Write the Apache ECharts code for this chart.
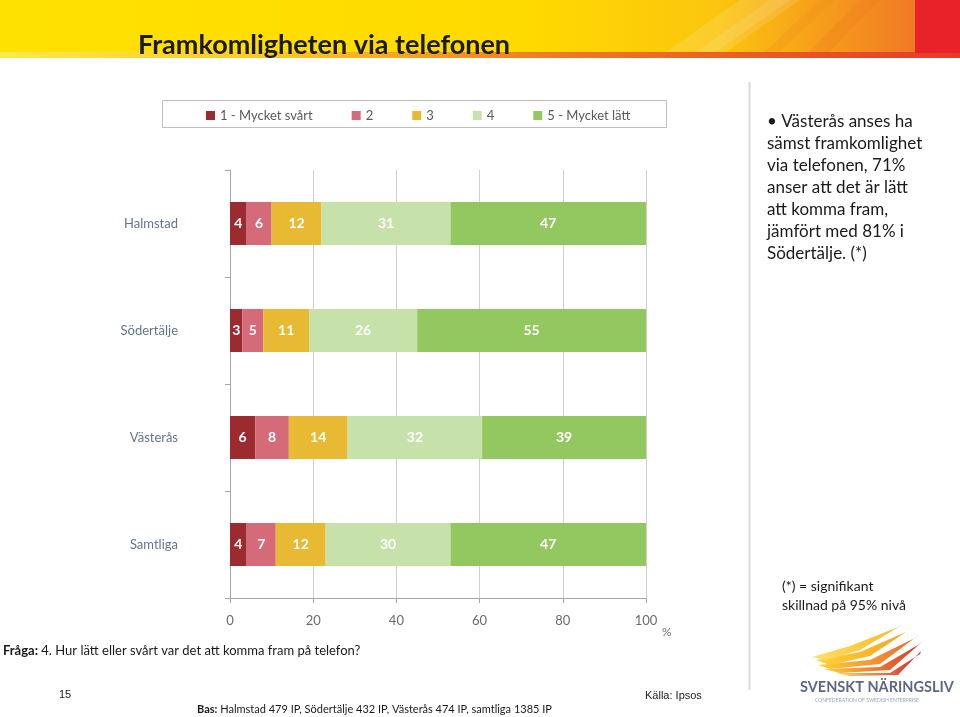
<!DOCTYPE html>
<html><head><meta charset="utf-8">
<script src="https://cdn.jsdelivr.net/npm/echarts@6/dist/echarts.min.js"></script>
<style>html,body{margin:0;padding:0;background:#fff}#c{width:960px;height:717px}</style>
</head><body><div id="c"></div>
<script>
var categories = ['Halmstad', 'Södertälje', 'Västerås', 'Samtliga'];
var seriesNames = ['1 - Mycket svårt', '2', '3', '4', '5 - Mycket lätt'];
var s1 = [4, 3, 6, 4];
var s2 = [6, 5, 8, 7];
var s3 = [12, 11, 14, 12];
var s4 = [31, 26, 32, 30];
var s5 = [47, 55, 39, 47];
var xTicks = [0, 20, 40, 60, 80, 100];
var colors = ['#9C2B2F', '#D56B79', '#E8B932', '#C6E2AA', '#93C760'];

var FONT = 'Lato, "Open Sans", sans-serif';
var chart = echarts.init(document.getElementById('c'), null, {renderer: 'canvas'});
var values = [s1, s2, s3, s4, s5];
// 100% stacked: each row normalised by its total, labels show the reported value
var totals = categories.map(function (c, j) {
  return values.reduce(function (a, v) { return a + v[j]; }, 0);
});
var series = values.map(function (v, i) {
  return {
    name: seriesNames[i], type: 'bar', stack: 'a', barWidth: 43,
    data: v.map(function (x, j) { return {value: x * 100 / totals[j], raw: x}; }),
    itemStyle: {color: colors[i]},
    label: {show: true, position: 'inside', color: '#fff', fontWeight: 'bold', fontSize: 14, fontFamily: FONT,
      formatter: function (p) { return p.data.raw; }},
    emphasis: {disabled: true}
  };
});

function feather(pts, c1, c2) {
  return {type: 'polygon', shape: {points: pts},
    style: {fill: new echarts.graphic.LinearGradient(0, 0, 1, 0, [{offset: 0, color: c1}, {offset: 1, color: c2}])}};
}

chart.setOption({
  animation: false,
  textStyle: {fontFamily: FONT},
  grid: {left: 230, width: 416, top: 170, height: 428, containLabel: false},
  legend: {
    left: 201, top: 104, itemGap: 39, itemWidth: 9, itemHeight: 9, icon: 'rect',
    textStyle: {color: '#595959', fontSize: 13, fontFamily: FONT},
    data: seriesNames
  },
  xAxis: {
    type: 'value', min: 0, max: 100, interval: 20,
    axisLine: {show: true, lineStyle: {color: '#A6A6A6'}},
    axisTick: {show: true, length: 5, lineStyle: {color: '#A6A6A6'}},
    axisLabel: {color: '#6b6b6b', fontSize: 13, margin: 16, fontFamily: FONT},
    splitLine: {show: true, lineStyle: {color: '#D0D0D0'}}
  },
  yAxis: {
    type: 'category', data: categories, inverse: true,
    axisLine: {show: true, lineStyle: {color: '#A6A6A6'}},
    axisTick: {show: true, length: 5, lineStyle: {color: '#A6A6A6'}},
    axisLabel: {color: '#66748A', fontSize: 13, margin: 52, fontFamily: FONT}
  },
  series: series,
  graphic: [
    {type: 'rect', z: -1, shape: {x: 0, y: 0, width: 960, height: 56},
      style: {fill: new echarts.graphic.LinearGradient(0, 0, 1, 0, [
        {offset: 0, color: '#FFE100'}, {offset: 0.55, color: '#FFDA00'}, {offset: 0.75, color: '#FBC50E'},
        {offset: 0.95, color: '#F17A25'}, {offset: 1, color: '#F06A28'}])}},
    {type: 'polygon', z: -1, shape: {points: [[740, 0], [800, 0], [720, 56], [660, 56]]}, style: {fill: 'rgba(255,255,255,0.12)'}},
    {type: 'polygon', z: -1, shape: {points: [[770, 0], [790, 0], [710, 56], [690, 56]]}, style: {fill: 'rgba(255,255,255,0.10)'}},
    {type: 'polygon', z: -1, shape: {points: [[820, 0], [835, 0], [775, 56], [760, 56]]}, style: {fill: 'rgba(240,140,30,0.25)'}},
    {type: 'polygon', z: -1, shape: {points: [[860, 0], [880, 0], [825, 56], [805, 56]]}, style: {fill: 'rgba(240,120,30,0.25)'}},
    {type: 'rect', z: -1, shape: {x: 0, y: 52, width: 960, height: 6},
      style: {fill: new echarts.graphic.LinearGradient(0, 0, 1, 0, [
        {offset: 0, color: '#FFE94A'}, {offset: 0.3, color: '#FBC620'}, {offset: 0.55, color: '#F07F23'},
        {offset: 1, color: '#E8392A'}])}},
    {type: 'rect', z: -1, shape: {x: 915, y: 0, width: 45, height: 53}, style: {fill: '#E92129'}},
    {type: 'text', left: 138, top: 32, style: {text: 'Framkomligheten via telefonen', fill: '#1a1a1a', font: 'bold 27px ' + FONT}},
    {type: 'rect', shape: {x: 162.5, y: 100.5, width: 504, height: 27}, style: {fill: 'none', stroke: '#BFBFBF', lineWidth: 1}},
    {type: 'line', shape: {x1: 749.5, y1: 82, x2: 749.5, y2: 690}, style: {stroke: '#D9D9D9', lineWidth: 2}},
    {type: 'text', left: 767, top: 111, style: {
      text: '• Västerås anses ha\nsämst framkomlighet\nvia telefonen, 71%\nanser att det är lätt\natt komma fram,\njämfört med 81% i\nSödertälje. (*)',
      fill: '#1a1a1a', font: '17px ' + FONT, lineHeight: 22}},
    {type: 'text', left: 782, top: 577, style: {text: '(*) = signifikant\nskillnad på 95% nivå', fill: '#1a1a1a', font: '14px ' + FONT, lineHeight: 19}},
    {type: 'text', left: 662, top: 626, style: {text: '%', fill: '#6b6b6b', font: '12px ' + FONT}},
    {type: 'text', left: 3, top: 644, style: {
      text: '{b|Fråga:} 4. Hur lätt eller svårt var det att komma fram på telefon?',
      fill: '#1a1a1a', font: '13px ' + FONT, rich: {b: {fontWeight: 'bold', fontSize: 13, fontFamily: FONT, fill: '#1a1a1a'}}}},
    {type: 'text', left: 59, top: 689, style: {text: '15', fill: '#1a1a1a', font: '11px "Liberation Sans", Arial'}},
    {type: 'text', left: 645, top: 690, style: {text: 'Källa: Ipsos', fill: '#1a1a1a', font: '11px "Liberation Sans", Arial'}},
    {type: 'text', left: 197, top: 704, style: {
      text: '{b|Bas:} Halmstad 479 IP, Södertälje 432 IP, Västerås 474 IP, samtliga 1385 IP',
      fill: '#1a1a1a', font: '11px ' + FONT, rich: {b: {fontWeight: 'bold', fontSize: 11, fontFamily: FONT, fill: '#1a1a1a'}}}},
    feather([[816, 660], [860, 652], [906, 632], [912, 628], [870, 656], [830, 665]], '#FFD23A', '#F4A020'),
    feather([[818, 665], [870, 660], [915, 638], [920, 634], [880, 664], [830, 669]], '#FFD23A', '#E8602A'),
    feather([[824, 669], [880, 667], [918, 645], [922, 642], [890, 670], [840, 673]], '#FFD23A', '#D9302A'),
    feather([[836, 673], [890, 673], [920, 654], [921, 651], [898, 675], [850, 676]], '#FFD86A', '#C8282A'),
    feather([[812, 657], [850, 646], [896, 628], [902, 625], [860, 650], [826, 660]], '#FFE06A', '#F7B81E'),
    {type: 'text', left: 800, top: 680, style: {text: 'SVENSKT NÄRINGSLIV', fill: '#5B6880', font: 'bold 14.5px ' + FONT}},
    {type: 'text', left: 815, top: 698, style: {text: 'CONFEDERATION OF SWEDISH ENTERPRISE', fill: '#9aa3b0', font: '5px ' + FONT}}
  ]
});
</script></body></html>
